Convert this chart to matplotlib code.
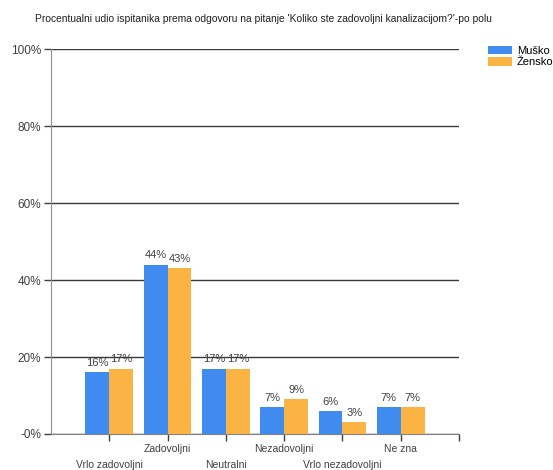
import matplotlib.pyplot as plt
import numpy as np

categories = ['Vrlo zadovoljni', 'Zadovoljni', 'Neutralni', 'Nezadovoljni', 'Vrlo nezadovoljni', 'Ne zna']
musko = [16, 44, 17, 7, 6, 7]
zensko = [17, 43, 17, 9, 3, 7]
series_names = ['Muško', 'Žensko']
title = "Procentualni udio ispitanika prema odgovoru na pitanje 'Koliko ste zadovoljni kanalizacijom?'-po polu"

plt.rcParams['font.family'] = ['Liberation Sans', 'DejaVu Sans']
blue = '#3F8BEF'
orange = '#FBB443'
txt = '#404040'

fig = plt.figure(figsize=(5.53, 4.70), dpi=100)
ax = fig.add_axes([0.0922, 0.0766, 0.738, 0.819])

x = np.arange(len(categories))
w = 0.41
b1 = ax.bar(x - w / 2, musko, w, color=blue, label=series_names[0], zorder=3)
b2 = ax.bar(x + w / 2, zensko, w, color=orange, label=series_names[1], zorder=3)

# value labels above bars
for bars, vals in ((b1, musko), (b2, zensko)):
    for b, v in zip(bars, vals):
        ax.annotate(f'{v}%', (b.get_x() + b.get_width() / 2, v), xytext=(0, 3),
                    textcoords='offset points', ha='center', va='bottom',
                    fontsize=8, color=txt, zorder=4)

ax.set_xlim(-1, len(categories))
ax.set_ylim(0, 100)
ax.set_yticks([0, 20, 40, 60, 80, 100])
ax.set_yticklabels(['-0%', '20%', '40%', '60%', '80%', '100%'], fontsize=8.5, color=txt)
ax.yaxis.grid(True, color='#383838', linewidth=1, zorder=0)

ax.set_xticks(np.arange(len(categories) + 1))
ax.set_xticklabels([''] * (len(categories) + 1))
for i, c in enumerate(categories):
    yoff = -0.04 if i % 2 == 1 else -0.08
    ax.text(i, yoff, c, transform=ax.get_xaxis_transform(), ha='center', va='center',
            fontsize=7.5, color=txt)

ax.tick_params(axis='both', length=5, color='#404040', width=1)
ax.tick_params(axis='y', pad=2)
for s in ('top', 'right'):
    ax.spines[s].set_visible(False)
ax.spines['left'].set_color('#909090')
ax.spines['bottom'].set_color('#808080')

fig.text(0.476, 0.96, title, ha='center', va='center', fontsize=7.4, color='#202020')

ax.legend(loc='upper left', bbox_to_anchor=(1.06, 1.02), frameon=False, fontsize=8,
          handlelength=2.2, handleheight=0.8, handletextpad=0.4, labelspacing=0.1,
          borderaxespad=0)

fig.savefig('out.png', dpi=100)
